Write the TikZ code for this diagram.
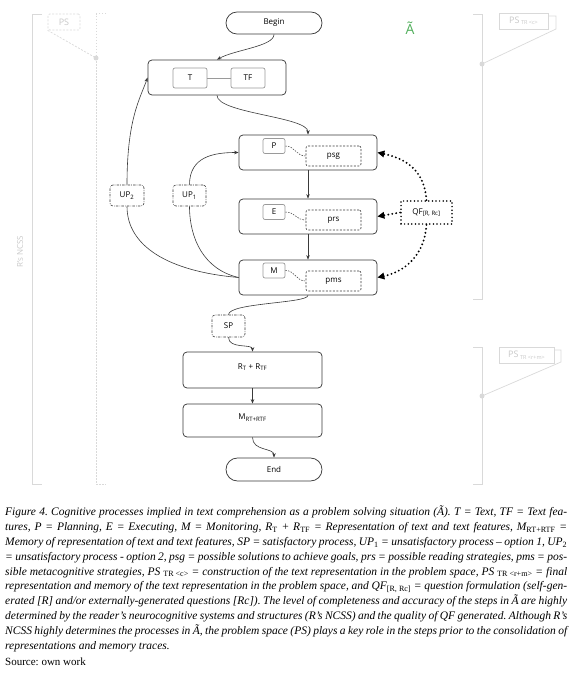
\documentclass[tikz,border=0pt]{standalone}
\usepackage{fontspec}
\setmainfont{Liberation Serif}
\newfontfamily\diagfont{Open Sans}
\usetikzlibrary{arrows.meta,shapes.misc}
\definecolor{boxc}{HTML}{3A3A3A}
\definecolor{innerc}{HTML}{9A9A9A}
\definecolor{pale}{HTML}{D9D9D9}
\definecolor{paletext}{HTML}{C8C8C8}
\definecolor{agreen}{HTML}{4FAE5A}
\newcommand{\capsub}[1]{\textsubscript{\upshape #1}}
\newcommand{\dsize}{\diagfont\fontsize{8}{9.6}\selectfont}
\frenchspacing
\begin{document}
\begin{tikzpicture}[x=1pt,y=-1pt,
  every node/.style={font=\dsize, inner sep=0pt},
  mainbox/.style={draw=boxc, rounded corners=4pt, line width=0.75pt, minimum width=138pt, minimum height=35pt},
  stadium/.style={draw=boxc, rounded rectangle, line width=0.75pt, minimum width=96pt, minimum height=22pt},
  innerbox/.style={draw=innerc, rounded corners=2pt, line width=0.7pt, minimum width=22pt, minimum height=15pt},
  optbox/.style={draw=boxc, dash pattern=on 2pt off 1.5pt, rounded corners=2pt, line width=0.6pt, minimum width=55pt, minimum height=20pt},
  procbox/.style={draw=boxc, dash pattern=on 2.5pt off 1.2pt on 0.6pt off 1.2pt, rounded corners=3pt, line width=0.6pt, minimum width=33pt, minimum height=21pt},
  qfbox/.style={draw=black, line width=1.7pt, dash pattern=on 0pt off 3.6pt, line cap=round, minimum width=51pt, minimum height=23pt},
  arr/.style={-{Stealth[length=4.5pt,width=3.5pt]}, draw=boxc, line width=0.6pt},
  plain/.style={draw=boxc, line width=0.6pt},
  link/.style={draw=innerc, line width=0.6pt},
  dlink/.style={draw=boxc, line width=0.5pt, dash pattern=on 1.5pt off 1.2pt},
  qfarr/.style={draw=black, line width=2.1pt, dash pattern=on 0pt off 4pt, line cap=round, -{Triangle[length=7pt,width=6.5pt]}},
  paleline/.style={draw=pale, line width=0.7pt},
  palebox/.style={draw=pale, line width=0.7pt, text=paletext},
]
\useasboundingbox (0,0) rectangle (580,677);

% ---- left brackets (R's NCSS and PS)
\draw[paleline] (42,14) -- (32,14) -- (32,484) -- (42,484);
\draw[paleline, line width=1pt, dash pattern=on 1.5pt off 1.5pt] (106,14) -- (96,14) -- (96,484) -- (106,484);
\node[palebox, dash pattern=on 2pt off 1.5pt, rounded corners=1.5pt, minimum width=32pt, minimum height=16pt, font=\diagfont\fontsize{9}{10}\selectfont] (psl) at (64,22) {PS};
\coordinate (dotl) at (96,58);
\draw[paleline, dash pattern=on 2pt off 1.5pt] (psl.south west) -- (dotl);
\fill[pale] (dotl) circle (2.5pt);
\node[text=paletext, rotate=90] (ncss) at (20,252) {R’s NCSS};

% ---- right brackets
\draw[paleline] (473,14) -- (482,14) -- (482,299) -- (473,299);
\node[palebox, minimum width=49pt, minimum height=16pt, font=\diagfont\fontsize{9}{10}\selectfont] (psc) at (523.5,21) {PS\,{\fontsize{5.5}{6}\selectfont\raisebox{-1.5pt}{TR <c>}}};
\coordinate (dotc) at (482,64);
\draw[paleline] (psc.east |- 0,16) -- (556,16) -- (556,29) -- (dotc);
\fill[pale] (dotc) circle (2.5pt);

\draw[paleline] (473,347) -- (482,347) -- (482,484) -- (473,484);
\node[palebox, minimum width=55pt, minimum height=16pt, font=\diagfont\fontsize{9}{10}\selectfont] (psrm) at (526.5,355) {PS\,{\fontsize{5.5}{6}\selectfont\raisebox{-1.5pt}{TR <r+m>}}};
\coordinate (dotrm) at (482,396);
\draw[paleline] (psrm.east |- 0,350) -- (561,350) -- (561,362) -- (dotrm);
\fill[pale] (dotrm) circle (2.5pt);

% ---- title letter
\node[text=agreen, font=\diagfont\fontsize{14}{16}\selectfont] (atil) at (410,28) {Ã};

% ---- main flow
\node[stadium] (begin) at (274,23) {Begin};
\node[mainbox] (tbox) at (217,77.5) {};
\node[innerbox, minimum width=34pt, minimum height=20pt] (t) at (190,78) {T};
\node[innerbox, minimum width=34pt, minimum height=20pt] (tf) at (248,78) {TF};
\draw[link] (t) -- (tf);

\node[mainbox] (pbox) at (308,152.5) {};
\node[innerbox] (pin) at (274,146) {P};
\node[optbox] (psg) at (333.5,156) {psg};
\node[mainbox] (ebox) at (308,216.5) {};
\node[innerbox] (ein) at (274,212) {E};
\node[optbox] (prs) at (333.5,220) {prs};
\node[mainbox] (mbox) at (308,277.5) {};
\node[innerbox] (min) at (274,270.5) {M};
\node[optbox] (pms) at (333.5,281) {pms};
\foreach \a/\b in {pin/psg, ein/prs, min/pms}
  \draw[dlink] (\a.east) .. controls +(10,0) and +(-10,0) .. (\b.west);

\node[qfbox] (qf) at (426.5,212.5) {QF\textsubscript{[R, Rc]}};
\node[procbox, minimum width=34pt] (up2) at (127,195.5) {UP\textsubscript{2}};
\node[procbox] (up1) at (189.5,195.5) {UP\textsubscript{1}};
\node[procbox, minimum height=22pt] (sp) at (228.5,326) {SP};

\node[mainbox, minimum width=139pt, minimum height=36pt, text height=7pt, text depth=9pt] (rbox) at (252.5,370) {R\textsubscript{T} + R\textsubscript{TF}};
\node[mainbox, minimum width=139pt, minimum height=33pt, text height=7pt, text depth=9pt] (mrt) at (252.5,420.5) {M\textsubscript{RT+RTF}};
\node[stadium, minimum height=23pt] (end) at (274,469.5) {End};

% ---- connectors
\draw[arr] (begin.south) .. controls +(0,12) and +(18,-10) .. (tbox.north);
\draw[arr] (tbox.south) .. controls +(0,18) and +(0,-18) .. (pbox.north);
\draw[arr] (pbox.south) -- (ebox.north);
\draw[arr] (ebox.south) -- (mbox.north);
\draw[plain] (mbox.west) .. controls +(-70,-6) and +(0,40) .. (up2.south);
\draw[arr] (up2.north) .. controls +(0,-65) and +(-8,22) .. (tbox.west);
\draw[plain] (mbox.west) .. controls +(-35,-8) and +(0,32) .. (up1.south);
\draw[arr] (up1.north) .. controls +(0,-28) and +(-25,0) .. (pbox.west);
\draw[plain] (mbox.south) .. controls +(0,8) and +(0,-12) .. (sp.north);
\draw[arr] (sp.south) .. controls +(0,12) and +(0,-8) .. (rbox.north);
\draw[arr] (rbox.south) -- (mrt.north);
\draw[arr] (mrt.south) .. controls +(0,14) and +(0,-10) .. (end.north);

\draw[qfarr] (qf.north) .. controls +(-2,-30) and +(28,6) .. (pbox.east);
\draw[qfarr] (qf.west) -- (ebox.east);
\draw[qfarr] (qf.south) .. controls +(-2,30) and +(28,-6) .. (mbox.east);

% ---- caption
\node[anchor=north west, text width=562pt, align=justify, font=\rmfamily\itshape\fontsize{11.5}{14.8}\selectfont] (cap) at (5,506) {Figure 4. Cognitive processes implied in text comprehension as a problem solving situation (Ã). T = Text, TF = Text fea-\linebreak
tures, P = Planning, E = Executing, M = Monitoring, R\capsub{T} + R\capsub{TF} = Representation of text and text features, M\capsub{RT+RTF} =\linebreak
Memory of representation of text and text features, SP = satisfactory process, UP\capsub{1} = unsatisfactory process – option 1, UP\capsub{2}\linebreak
= unsatisfactory process - option 2, psg = possible solutions to achieve goals, prs = possible reading strategies, pms = pos-\linebreak
sible metacognitive strategies, PS \capsub{TR <c>} = construction of the text representation in the problem space, PS \capsub{TR <r+m>} = final\linebreak
representation and memory of the text representation in the problem space, and QF\capsub{[R, Rc]} = question formulation (self-gen-\linebreak
erated [R] and/or externally-generated questions [Rc]). The level of completeness and accuracy of the steps in Ã are highly\linebreak
determined by the reader’s neurocognitive systems and structures (R’s NCSS) and the quality of QF generated. Although R’s\linebreak
NCSS highly determines the processes in Ã, the problem space (PS) plays a key role in the steps prior to the consolidation of\linebreak
representations and memory traces.};
\node[anchor=base west, font=\rmfamily\fontsize{11}{13}\selectfont] (src) at (5,665) {Source: own work};
\end{tikzpicture}
\end{document}
